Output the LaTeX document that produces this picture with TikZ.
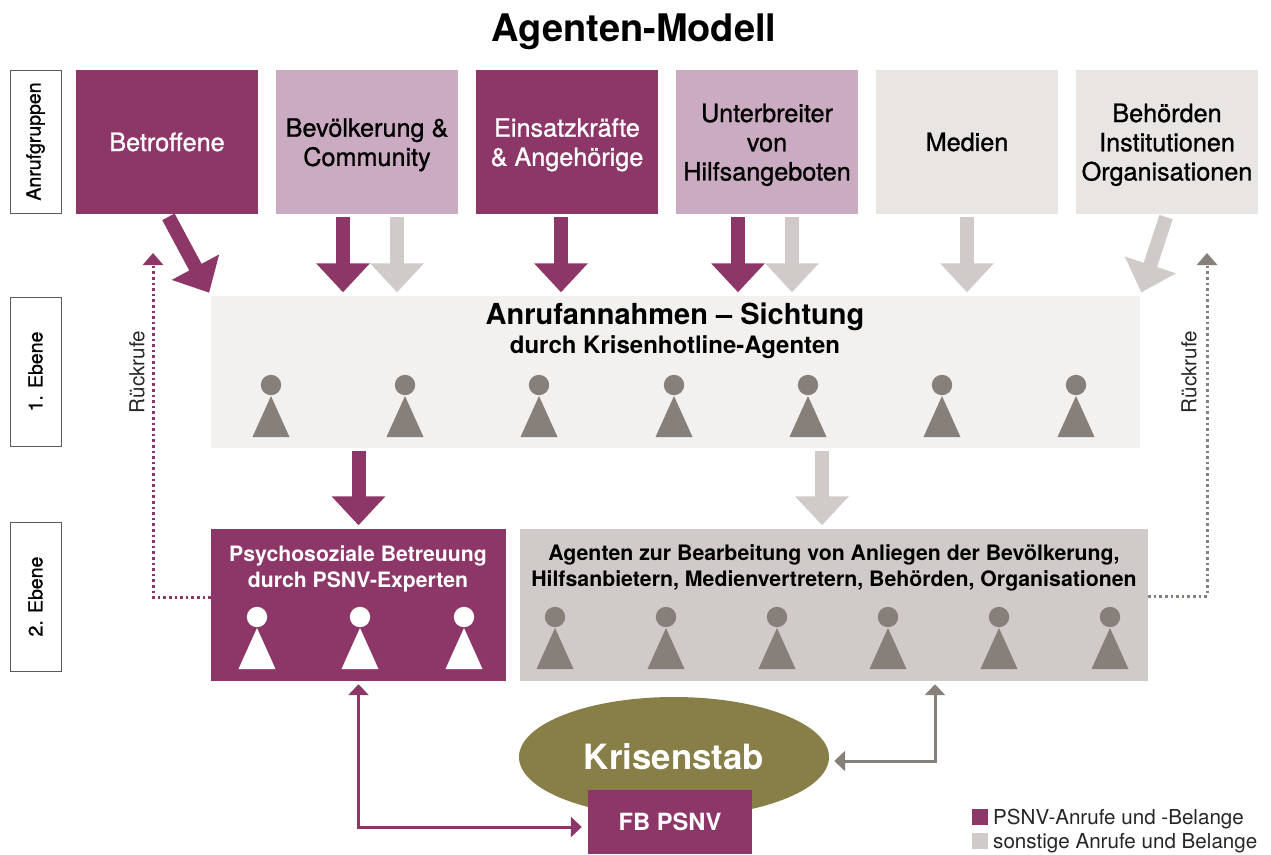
\documentclass[tikz,border=0pt]{standalone}
\usepackage{fontspec}
\setmainfont{TeX Gyre Heros}
\newfontfamily\medfont[FakeBold=1]{TeX Gyre Heros}
\usetikzlibrary{arrows.meta,shapes.geometric}
\definecolor{mypurple}{HTML}{8C3767}
\definecolor{mylilac}{HTML}{CBABC1}
\definecolor{mysand}{HTML}{E8E5E2}
\definecolor{mypale}{HTML}{F2F1EF}
\definecolor{mystone}{HTML}{D0CBC8}
\definecolor{mytaupe}{HTML}{877F7A}
\definecolor{myolive}{HTML}{877F47}
\newcommand{\fs}[1]{\fontsize{#1}{#1}\selectfont}
\newcommand{\lift}{\rule{0pt}{24pt}}
\tikzset{
  person/.pic={
    \fill[pic actions] (0,-32) circle[radius=10.2];
    \fill[pic actions] (0,-21) -- (18.5,20) -- (-18.5,20) -- cycle;
  },
  group/.style={inner sep=0pt,minimum width=182pt,minimum height=144pt,align=center,
    font=\medfont\fs{25.2}\linespread{1.16}\selectfont},
  level/.style={draw=black!65,line width=1pt,inner sep=0pt,rotate=90,
    minimum height=51pt,font=\medfont\fs{19.5}},
  stage/.style={inner sep=0pt,align=center},
  bigpurple/.style={line width=14pt,color=mypurple,shorten <=3pt,shorten >=3.5pt,
    -{Triangle[length=29pt,width=52pt]}},
  biggrey/.style={bigpurple,color=mystone},
  linkpurple/.style={line width=3pt,color=mypurple,
    {Triangle[length=11pt,width=20pt]}-{Triangle[length=11pt,width=20pt]}},
  linkgrey/.style={linkpurple,color=mytaupe},
  dotpurple/.style={line width=3pt,color=mypurple,dash pattern=on 2.6pt off 3pt,
    -{Triangle[length=12pt,width=20pt]}},
  dotgrey/.style={dotpurple,color=mytaupe},
  note/.style={inner sep=0pt,text=black!85,font=\fs{20.6}}
}
\begin{document}
\begin{tikzpicture}[x=1pt,y=-1pt]
\useasboundingbox (0,0) rectangle (1271,854);
\node[stage,font=\fs{38}\bfseries] (title) at (634,32) {Agenten-Modell};
\node[level,minimum width=143pt] (lev0) at (35.5,141.5) {Anrufgruppen};
\node[level,minimum width=149pt] (lev1) at (35.5,371.5) {1. Ebene};
\node[level,minimum width=149pt] (lev2) at (35.5,596.5) {2. Ebene};
\node[group,fill=mypurple,text=white] (bet) at (167,142) {Betroffene};
\node[group,fill=mylilac] (bev) at (367,142) {\lift Bevölkerung \&\\Community};
\node[group,fill=mypurple,text=white] (ein) at (567,142) {\lift Einsatzkräfte\\\& Angehörige};
\node[group,fill=mylilac] (unt) at (767,142) {\lift Unterbreiter\\von\\Hilfsangeboten};
\node[group,fill=mysand] (med) at (967,142) {Medien};
\node[group,fill=mysand] (beh) at (1167,142) {\lift Behörden\\Institutionen\\Organisationen};
\node[fill=mypale,inner sep=0pt,minimum width=929pt,minimum height=152pt] (sight) at (675.5,372) {};
\node[stage,font=\fs{29}\bfseries] (sighttop) at (675,317) {Anrufannahmen -- Sichtung};
\node[stage,font=\fs{24}\bfseries] (sightsub) at (675,347) {durch Krisenhotline-Agenten};
\node[fill=mypurple,inner sep=0pt,minimum width=295pt,minimum height=152pt] (psnv) at (358.5,605) {};
\node[stage,text=white,font=\fs{21.2}\bfseries\linespread{1.22}\selectfont] (psnvtxt) at (358,569) {Psychosoziale Betreuung\\durch PSNV-Experten};
\node[fill=mystone,inner sep=0pt,minimum width=628pt,minimum height=152pt] (ag) at (834,605) {};
\node[stage,font=\fs{21.3}\bfseries\linespread{1.22}\selectfont] (agtxt) at (834,568) {Agenten zur Bearbeitung von Anliegen der Bevölkerung,\\Hilfsanbietern, Medienvertretern, Behörden, Organisationen};
\foreach \x in {271,405,539,674,808,942,1076} \pic[fill=mytaupe] at (\x,417) {person};
\foreach \x in {257,360,464} \pic[fill=white] at (\x,649) {person};
\foreach \x in {555,666,777,888,999,1110} \pic[fill=mytaupe] at (\x,649) {person};
\node[ellipse,fill=myolive,inner sep=0pt,minimum width=310pt,minimum height=120pt,text=white,font=\fs{34.8}\bfseries] (krise) at (674,757) {Krisenstab};
\node[fill=mypurple,inner sep=0pt,minimum width=164pt,minimum height=64pt,text=white,font=\fs{23.7}\bfseries] (fb) at (670,822) {FB PSNV};
\draw[bigpurple] (bet.south) -- (sight.north west);
\draw[bigpurple] ([xshift=-24pt]bev.south) -- ([xshift=-24pt]bev.south |- sight.north);
\draw[biggrey] ([xshift=30pt]bev.south) -- ([xshift=30pt]bev.south |- sight.north);
\draw[bigpurple] ([xshift=-6pt]ein.south) -- ([xshift=-6pt]ein.south |- sight.north);
\draw[bigpurple] ([xshift=-29pt]unt.south) -- ([xshift=-29pt]unt.south |- sight.north);
\draw[biggrey] ([xshift=25pt]unt.south) -- ([xshift=25pt]unt.south |- sight.north);
\draw[biggrey] (med.south) -- (med.south |- sight.north);
\draw[biggrey] (beh.south) -- (sight.north east);
\draw[bigpurple] (psnv.north |- sight.south) -- (psnv.north);
\draw[biggrey] ([xshift=-12pt]ag.north |- sight.south) -- ([xshift=-12pt]ag.north);
\coordinate (backl) at (153,253);
\coordinate (backr) at (1207,253);
\draw[dotpurple] ([yshift=8pt]psnv.west) -| (backl);
\draw[dotgrey] ([yshift=9pt]ag.east) -| (backr);
\node[note,rotate=90] (ruecl) at (137,372) {Rückrufe};
\node[note,rotate=90] (ruecr) at (1189,372) {Rückrufe};
\draw[linkpurple,shorten <=3pt,shorten >=6pt] (psnv.south) |- ([yshift=-5pt]fb.west);
\draw[linkgrey,shorten <=3pt,shorten >=5pt] ([xshift=101pt]ag.south) |- ([yshift=-4pt]krise.east);
\node[fill=mypurple,inner sep=0pt,minimum size=16pt] (keyp) at (980,817) {};
\node[fill=mystone,inner sep=0pt,minimum size=16pt] (keyg) at (980,841) {};
\node[note,anchor=west] (keyptxt) at (993,819) {PSNV-Anrufe und -Belange};
\node[note,anchor=west] (keygtxt) at (993,843) {sonstige Anrufe und Belange};
\end{tikzpicture}
\end{document}
